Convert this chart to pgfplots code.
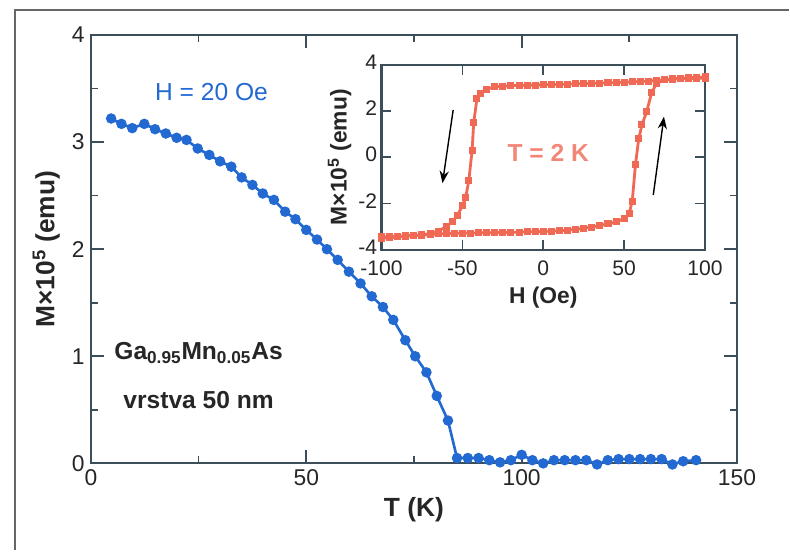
\documentclass[border=0pt]{standalone}
\usepackage{fontspec}
\setmainfont{Liberation Sans}
\usepackage{pgfplots}
\pgfplotsset{compat=1.18}
\usetikzlibrary{arrows.meta}

\definecolor{mblue}{RGB}{35,105,210}
\definecolor{ired}{RGB}{240,105,85}
\definecolor{axgray}{RGB}{60,78,90}

\pgfplotstableread{
T M
4.7 3.22
7.1 3.17
9.6 3.13
12.4 3.17
14.9 3.12
17.4 3.08
19.9 3.04
22.2 3.02
24.8 2.94
27.5 2.88
30.0 2.82
32.6 2.77
35.0 2.67
37.5 2.60
39.9 2.52
42.5 2.46
45.1 2.35
47.5 2.28
50.0 2.18
52.5 2.09
54.8 2.00
57.3 1.90
59.9 1.79
62.6 1.68
65.2 1.56
67.8 1.46
70.2 1.34
73.0 1.15
75.3 1.00
77.9 0.85
80.3 0.63
82.9 0.40
85.0 0.05
87.5 0.05
90.0 0.05
92.5 0.03
95.0 0.01
97.5 0.03
100.0 0.08
102.5 0.03
105.0 0.00
107.5 0.03
110.0 0.03
112.5 0.03
115.0 0.03
117.5 -0.01
120.0 0.03
122.5 0.04
125.0 0.04
127.5 0.04
130.0 0.04
132.5 0.04
135.0 -0.01
137.5 0.02
140.5 0.03
}\mainT

\pgfplotstableread{
H M
100 3.42
95 3.42
90 3.41
85 3.40
80 3.38
75 3.35
70 3.32
65 3.30
60 3.28
55 3.27
50 3.25
45 3.24
40 3.22
35 3.21
30 3.20
25 3.19
20 3.18
15 3.17
10 3.16
5 3.15
0 3.14
-5 3.13
-10 3.12
-15 3.11
-20 3.10
-25 3.08
-30 3.05
-35 2.95
-39 2.78
-41 2.55
-43 1.50
-44 0.30
-46 -1.00
-48 -1.75
-50 -2.10
-53 -2.50
-56 -2.78
-60 -3.00
-65 -3.20
-70 -3.30
-75 -3.35
-80 -3.38
-85 -3.40
-90 -3.42
-95 -3.44
-100 -3.45
-100 -3.50
-95 -3.48
-90 -3.45
-85 -3.42
-80 -3.40
-75 -3.37
-70 -3.35
-65 -3.32
-60 -3.30
-55 -3.29
-50 -3.28
-45 -3.28
-40 -3.27
-35 -3.27
-30 -3.26
-25 -3.25
-20 -3.25
-15 -3.24
-10 -3.23
-5 -3.22
0 -3.21
5 -3.20
10 -3.18
15 -3.15
20 -3.12
25 -3.07
30 -3.02
35 -2.95
40 -2.88
45 -2.80
50 -2.65
53 -2.45
55 -1.90
57 -0.30
59 0.80
61 1.40
64 2.00
67 2.80
70 3.20
75 3.35
80 3.40
85 3.42
90 3.45
95 3.46
100 3.48
}\loopT

\begin{document}
\begin{tikzpicture}
% page and its frame (top and left edges only)
\fill[white] (-1.82,-1.74) rectangle (13.98,9.28);
\draw[black!60, line width=1.2pt] (-1.52,-1.74) -- (-1.52,9.08) -- (13.98,9.08);

\begin{axis}[
  at={(0,0)}, anchor=south west,
  scale only axis, width=12.94cm, height=8.58cm,
  xmin=0, xmax=150, ymin=0, ymax=4,
  xtick={0,50,100,150}, minor xtick={25,75,125},
  ytick={0,1,2,3,4}, minor ytick={0.5,1.5,2.5,3.5},
  tick align=inside,
  major tick length=0.26cm, minor tick length=0.14cm,
  axis line style={axgray, line width=1.2pt},
  every tick/.style={axgray, line width=1pt},
  tick label style={font=\fontsize{13}{15}\selectfont, text=black!85},
  /pgf/number format/assume math mode=true,
  xlabel={T (K)},
  ylabel={M×10\textsuperscript{5} (emu)},
  label style={font=\fontsize{15}{17}\selectfont\bfseries, text=black!85},
  clip=false,
]
\addplot[mblue, line width=1.5pt, mark=*, mark size=2.2pt] table[x=T, y=M] {\mainT};
\node[mblue, font=\fontsize{14}{16}\selectfont] at (axis cs:28,3.47) {H = 20 Oe};
\node[font=\fontsize{14}{16}\selectfont\bfseries, text=black!85] at (axis cs:25,1.03)
  {Ga\textsubscript{0.95}Mn\textsubscript{0.05}As};
\node[font=\fontsize{14}{16}\selectfont\bfseries, text=black!85] at (axis cs:25,0.59)
  {vrstva 50 nm};
\end{axis}

\begin{axis}[
  at={(5.82cm,4.28cm)}, anchor=south west,
  scale only axis, width=6.48cm, height=3.7cm,
  xmin=-100, xmax=100, ymin=-4, ymax=4,
  xtick={-100,-50,0,50,100}, ytick={-4,-2,0,2,4},
  tick align=inside,
  major tick length=0.2cm,
  axis line style={axgray, line width=1.2pt},
  every tick/.style={axgray, line width=1pt},
  tick label style={font=\fontsize{12}{14}\selectfont, text=black!85},
  xticklabel style={yshift=-3pt},
  yticklabel style={xshift=1pt, yshift=1.5pt},
  /pgf/number format/assume math mode=true,
  xlabel={H (Oe)},
  ylabel={M×10\textsuperscript{5} (emu)},
  label style={font=\fontsize{13}{15}\selectfont\bfseries, text=black!85},
  ylabel style={yshift=-0.1cm},
  xlabel style={yshift=0.02cm},
]
\addplot[ired, line width=1.6pt, mark=square*, mark size=1.2pt] table[x=H, y=M] {\loopT};
\node[ired!80, font=\fontsize{14}{16}\selectfont\bfseries] at (axis cs:3,0.2) {T = 2 K};
\draw[black, line width=0.8pt, -{Stealth[length=7pt]}] (axis cs:-55.7,2.05) -- (axis cs:-62.3,-1.12);
\draw[black, line width=0.8pt, -{Stealth[length=7pt]}] (axis cs:68,-1.63) -- (axis cs:74.6,1.76);
\end{axis}
\end{tikzpicture}
\end{document}
